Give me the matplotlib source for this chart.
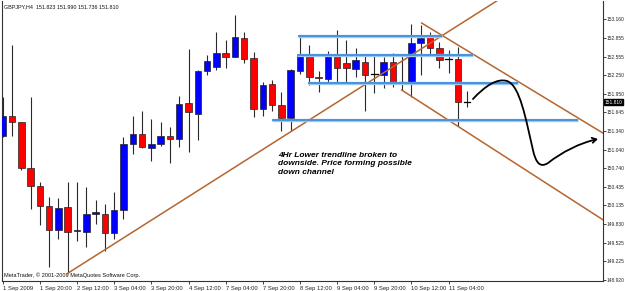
import matplotlib
matplotlib.use("Agg")
import matplotlib.pyplot as plt
from matplotlib.patches import Rectangle, FancyArrowPatch
from matplotlib.path import Path
import numpy as np

plt.rcParams['font.family'] = ['Liberation Sans', 'DejaVu Sans']

# ---- data (GBPJPY H4) ----
opens = [151.26, 151.59, 151.485, 150.747, 150.45, 150.125, 149.734, 150.103, 149.713, 149.706,
         149.99, 149.99, 149.69, 150.06, 151.132, 151.29, 151.067, 151.127, 151.262, 151.219,
         151.794, 151.625, 152.315, 152.38, 152.607, 152.552, 152.86, 152.526, 151.697, 152.108,
         151.767, 151.56, 152.324, 152.563, 152.227, 152.19, 152.563, 152.445, 152.347, 152.46,
         152.27, 152.254, 152.46, 152.145, 152.145, 152.77, 152.867, 152.688, 152.51, 152.514,
         151.823]
highs = [151.89, 152.74, 151.49, 151.90, 150.52, 150.266, 150.25, 150.52, 150.52, 150.43,
         150.22, 150.157, 150.36, 151.24, 151.588, 151.67, 151.534, 151.49, 151.414, 151.913,
         152.672, 152.33, 152.58, 152.95, 152.823, 153.23, 152.958, 152.633, 152.145, 152.173,
         151.983, 152.35, 152.888, 152.742, 152.32, 152.645, 152.986, 152.823, 152.70, 152.58,
         152.563, 152.552, 152.607, 152.58, 153.084, 153.067, 152.958, 152.796, 152.66, 152.714,
         151.990]
lows = [151.24, 151.26, 150.705, 150.07, 149.81, 149.137, 149.583, 149.03, 149.56, 149.45,
        149.83, 149.40, 149.58, 149.918, 150.965, 151.06, 150.856, 151.10, 150.82, 151.09,
        151.007, 151.197, 152.26, 152.335, 152.373, 152.55, 152.445, 151.576, 151.593, 151.67,
        151.349, 151.344, 152.27, 152.092, 151.983, 152.145, 152.145, 152.12, 152.227, 151.674,
        151.967, 152.038, 152.064, 152.01, 151.90, 152.254, 152.58, 152.363, 152.282, 151.425,
        151.736]
closes = [151.59, 151.485, 150.747, 150.45, 150.125, 149.734, 150.087, 149.706, 149.74, 149.99,
          150.02, 149.69, 150.06, 151.132, 151.29, 151.08, 151.127, 151.262, 151.219, 151.783,
          151.648, 152.32, 152.482, 152.617, 152.547, 152.877, 152.52, 151.70, 152.092, 151.767,
          151.56, 152.336, 152.563, 152.227, 152.20, 152.563, 152.363, 152.363, 152.498, 152.254,
          152.265, 152.47, 152.145, 152.14, 152.77, 152.85, 152.688, 152.498, 152.51, 151.82,
          151.810]

time_tick_bars = [0, 4, 8, 12, 16, 20, 24, 28, 32, 36, 40, 44, 48]
time_tick_labels = ["1 Sep 2009", "1 Sep 20:00", "2 Sep 12:00", "3 Sep 04:00", "3 Sep 20:00",
                    "4 Sep 12:00", "7 Sep 04:00", "7 Sep 20:00", "8 Sep 12:00", "9 Sep 04:00",
                    "9 Sep 20:00", "10 Sep 12:00", "11 Sep 04:00"]
price_ticks = [153.160, 152.855, 152.555, 152.250, 151.950, 151.645, 151.340, 151.040,
               150.740, 150.435, 150.135, 149.830, 149.525, 149.225, 148.920]
current_price = 151.810

# annotation drawings (bar index, price)
uptrend_x = [6.89, 54.65]
uptrend_p = [149.02, 153.6]
chan_upper_x = [45.1, 64.62]
chan_upper_p = [153.10, 151.31]
chan_lower_x = [42.95, 64.62]
chan_lower_p = [152.01, 149.90]
hlines_p = [152.893, 152.58, 152.119, 151.53]
hlines_x0 = [31.82, 31.65, 32.9, 28.96]
hlines_x1 = [47.25, 50.66, 55.5, 61.93]
curve_x = [50.62, 51.92, 53.21, 54.28, 55.68, 56.33, 57.08, 57.40, 57.84, 58.70, 60.20, 62.14, 64.08]
curve_p = [151.864, 152.075, 152.205, 152.157, 152.092, 151.523, 151.035, 150.824, 150.742,
           150.823, 151.002, 151.149, 151.214]

# ---- figure ----
fig = plt.figure(figsize=(6.25, 2.91), dpi=100)
W, H = 625, 291
ax = fig.add_axes([1.7 / W, (H - 281) / H, (603 - 1.7) / W, (281 - 1) / H])
ax.set_xlim(-0.11, 64.62)
ax.set_ylim(148.905, 153.458)

bw = 0.7
for i, (o, h, l, c) in enumerate(zip(opens, highs, lows, closes)):
    ax.plot([i, i], [l, h], color='#2a2a2a', lw=0.8, zorder=2, solid_capstyle='butt')
    lo, hi = min(o, c), max(o, c)
    if hi - lo < 0.02:
        ax.plot([i - bw / 2, i + bw / 2], [c, c], color='black', lw=0.9, zorder=3)
    else:
        col = '#0000ff' if c > o else '#ff0000'
        ax.add_patch(Rectangle((i - bw / 2, lo), bw, hi - lo, facecolor=col,
                               edgecolor='#222222', lw=0.5, zorder=3))

brown = '#b5652f'
ax.plot(uptrend_x, uptrend_p, color=brown, lw=1.1, zorder=4)
ax.plot(chan_upper_x, chan_upper_p, color=brown, lw=1.1, zorder=4)
ax.plot(chan_lower_x, chan_lower_p, color=brown, lw=1.1, zorder=4)
for p, x0, x1 in zip(hlines_p, hlines_x0, hlines_x1):
    ax.plot([x0, x1], [p, p], color='#9cc8f0', lw=2.4, zorder=4, solid_capstyle='butt')
    ax.plot([x0, x1], [p, p], color='#3a8ad8', lw=1.2, zorder=4, solid_capstyle='butt')

verts = list(zip(curve_x, curve_p))
codes = [Path.MOVETO] + [Path.CURVE4] * (len(verts) - 1)
arrow = FancyArrowPatch(path=Path(verts, codes), arrowstyle='->,head_length=3,head_width=1.8',
                        color='black', lw=1.3, zorder=5)
ax.add_patch(arrow)

ax.text(29.67, 151.0, "4Hr Lower trendline broken to\ndownside. Price forming possible\ndown channel",
        fontsize=6, fontweight='bold', fontstyle='italic', va='top', ha='left',
        linespacing=1.25, zorder=6)

ax.text(0.004, 0.99, "GBPJPY,H4  151.823 151.990 151.736 151.810", transform=ax.transAxes,
        fontsize=3.9, va='top', ha='left', color='#111111')
ax.text(0.004, 0.012, "MetaTrader, \u00a9 2001-2009 MetaQuotes Software Corp.", transform=ax.transAxes,
        fontsize=4.1, va='bottom', ha='left', color='#111111')

# axes styling
for s in ['left', 'bottom', 'right']:
    ax.spines[s].set_color('#333333')
    ax.spines[s].set_linewidth(0.8)
ax.spines['top'].set_visible(False)
ax.yaxis.tick_right()
ax.set_yticks(price_ticks)
ax.set_yticklabels([f"{v:.3f}" for v in price_ticks])
ax.tick_params(axis='y', length=2, width=0.6, labelsize=3.5, pad=0.8, colors='#222222')
ax.set_xticks(time_tick_bars)
ax.set_xticklabels(time_tick_labels)
ax.tick_params(axis='x', length=2.5, width=0.6, labelsize=4.2, pad=1.2, colors='#222222')
for lbl in ax.get_xticklabels():
    lbl.set_ha('left')

ax.text(1.003, current_price, f"{current_price:.3f}", transform=ax.get_yaxis_transform(),
        fontsize=3.5, color='white', va='center', ha='left',
        bbox=dict(boxstyle='square,pad=0.1', facecolor='black', edgecolor='black'))

fig.savefig('out.png', dpi=100)
